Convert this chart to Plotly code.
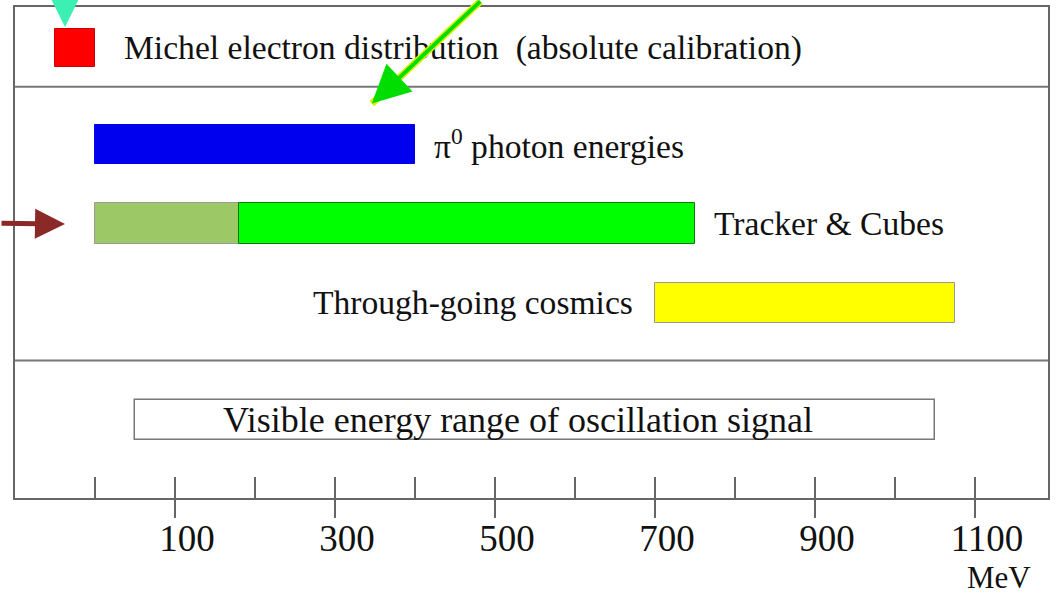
import plotly.graph_objects as go

# ---------------- data (MeV) ----------------
labels = ["Michel electron distribution  (absolute calibration)",
          "π<sup>0</sup> photon energies",
          "Tracker & Cubes (low)",
          "Tracker & Cubes",
          "Through-going cosmics",
          "Visible energy range of oscillation signal"]
range_start = [-50, 0, 0, 180, 700, 50]
range_end = [0, 400, 180, 750, 1075, 1050]
bar_colors = ["#ff0000", "#0000ee", "#9cc966", "#00ff00", "#ffff00", "#ffffff"]

major_ticks = [100, 300, 500, 700, 900, 1100]
minor_ticks = [0, 100, 200, 300, 400, 500, 600, 700, 800, 900, 1000, 1100]

# ---------------- layout helpers ----------------
FONT = "Liberation Serif"
row_y = [41.5, 138, 217, 217, 297, 415]          # row centres (vertical slots)
row_h = [38, 40, 41, 41, 40, 40]
line_cols = ["#cc0000", "#0000ee", "#9a9a9a", "#117711", "#999999", "#777777"]

fig = go.Figure()
for i in range(len(labels)):
    fig.add_trace(go.Bar(
        orientation="h",
        base=[range_start[i]],
        x=[range_end[i] - range_start[i]],
        y=[row_y[i]],
        width=[row_h[i]],
        marker=dict(color=bar_colors[i], line=dict(color=line_cols[i], width=1.5 if i == 5 else 1)),
        showlegend=False, hoverinfo="skip"))

# invisible trace to carry the minor-tick axis
fig.add_trace(go.Scatter(x=[0], y=[0], xaxis="x2", mode="markers",
                         marker=dict(opacity=0), showlegend=False, hoverinfo="skip"))

txt = dict(family=FONT, size=33.6, color="#111111")
ann = []
# Michel
ann.append(dict(x=range_end[0], y=row_y[0], text=labels[0], xanchor="left", xshift=27, font=txt))
# pi0
ann.append(dict(x=range_end[1], y=row_y[1], text=labels[1], xanchor="left", xshift=17, font=txt))
# Tracker
ann.append(dict(x=range_end[3], y=row_y[3], text=labels[3], xanchor="left", xshift=17, font=txt))
# cosmics
ann.append(dict(x=range_start[4], y=row_y[4], text=labels[4], xanchor="right", xshift=-20, font=txt))
# visible
ann.append(dict(x=(range_start[5] + range_end[5]) / 2, y=row_y[5], text=labels[5],
                xanchor="center", xshift=-17, font=dict(family=FONT, size=36, color="#111111")))
for a in ann:
    a.update(xref="x", yref="y", yanchor="middle", showarrow=False)

# MeV unit label
ann.append(dict(x=major_ticks[-1], y=-0.162, xref="x", yref="paper", text="MeV",
                xshift=24, showarrow=False, font=dict(family=FONT, size=31, color="#111111"),
                xanchor="center", yanchor="middle"))

# arrows
ann.append(dict(x=-37.5, y=20, xref="x", yref="y", ax=0, ay=-45, text="", showarrow=True,
                arrowhead=2, arrowwidth=2, arrowsize=3, arrowcolor="#3cf0b4"))
ann.append(dict(x=346, y=97, xref="x", yref="y", ax=110, ay=-110, text="", showarrow=True,
                arrowhead=0, arrowwidth=7, arrowcolor="#d8f000"))
ann.append(dict(x=346, y=97, xref="x", yref="y", ax=110, ay=-110, text="", showarrow=True,
                arrowhead=2, arrowwidth=4, arrowsize=1.9, arrowcolor="#00dd00"))
ann.append(dict(x=-37.5, y=218, xref="x", yref="y", ax=-75, ay=-1, text="", showarrow=True,
                arrowhead=2, arrowwidth=5, arrowsize=1.2, arrowcolor="#8b2828"))

fig.update_layout(
    width=1057, height=599,
    margin=dict(l=15, r=9, t=5, b=101),
    paper_bgcolor="white", plot_bgcolor="white",
    bargap=0, barmode="overlay",
    annotations=ann,
    shapes=[dict(type="line", xref="paper", yref="y", x0=0, x1=1, y0=80, y1=80,
                 line=dict(color="#777777", width=2)),
            dict(type="line", xref="paper", yref="y", x0=0, x1=1, y0=355, y1=355,
                 line=dict(color="#777777", width=2))],
    xaxis=dict(range=[-100, 1191.25], tickmode="array", tickvals=major_ticks,
               ticktext=[str(t) for t in major_ticks],
               ticks="outside", ticklen=18, tickwidth=1.5, tickcolor="#666666",
               showline=True, linecolor="#666666", linewidth=2, mirror=True,
               showgrid=False, zeroline=False,
               tickfont=dict(family=FONT, size=37, color="#111111"),
               ticklabelshift=12, ticklabelstandoff=-11),
    xaxis2=dict(range=[-100, 1191.25], overlaying="x", anchor="y", side="bottom",
                tickmode="array", tickvals=minor_ticks, ticks="inside", ticklen=21,
                tickwidth=1.5, tickcolor="#666666", showticklabels=False,
                showgrid=False, zeroline=False, showline=False),
    yaxis=dict(range=[493, 0], showticklabels=False, ticks="", showgrid=False,
               zeroline=False, showline=True, linecolor="#666666", linewidth=2, mirror=True),
)

fig.write_html("out.html", config={"displayModeBar": False},
               post_script="document.body.style.margin='0px';")
